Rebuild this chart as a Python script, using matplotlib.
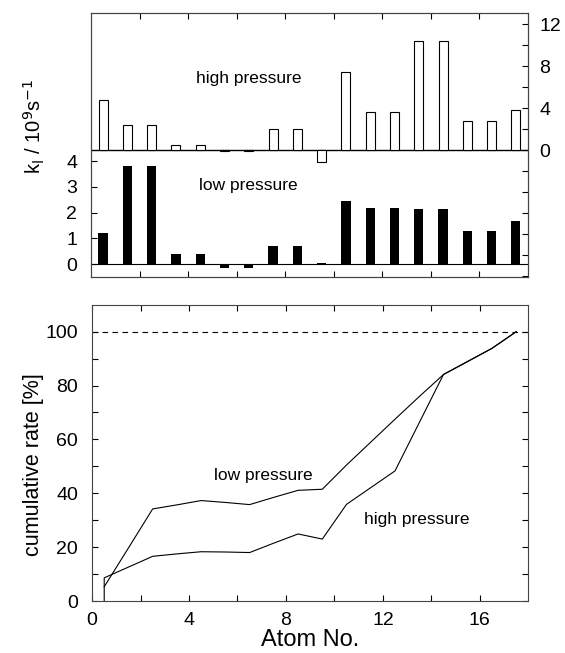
import matplotlib
matplotlib.use("Agg")
import matplotlib.pyplot as plt
import numpy as np

plt.rcParams["font.family"] = ["Liberation Sans", "DejaVu Sans"]

# atom positions (bars are centred half a unit in)
atom_pos = [0.5, 1.5, 2.5, 3.5, 4.5, 5.5, 6.5, 7.5, 8.5, 9.5,
            10.5, 11.5, 12.5, 13.5, 14.5, 15.5, 16.5, 17.5]

# k_l / 10^9 s^-1
k_high = [4.8, 2.4, 2.4, 0.5, 0.5, -0.1, -0.1, 2.0, 2.0, -1.1,
          7.4, 3.6, 3.6, 10.4, 10.4, 2.8, 2.8, 3.8]
k_low = [1.2, 3.8, 3.8, 0.4, 0.4, -0.15, -0.15, 0.7, 0.7, 0.05,
         2.45, 2.2, 2.2, 2.15, 2.15, 1.27, 1.27, 1.67]

# cumulative rate [%]
cum_high_x = [0.5] + atom_pos
cum_high = [0.0, 8.6, 12.6, 16.6, 17.5, 18.3, 18.2, 18.0, 21.5, 24.9, 23.0,
            35.9, 42.1, 48.3, 66.2, 84.1, 88.9, 93.8, 100.0]
cum_low = [5.3, 19.7, 34.2, 35.7, 37.3, 36.6, 35.8, 38.5, 41.1, 41.5,
           50.5, 59.0, 67.5, 75.9, 84.1, 89.0, 93.8, 100.0]

TICK_FS = 14
NOTE_FS = 12.5

fig = plt.figure(figsize=(5.65, 6.53), dpi=100)

# ---- top: rate constants, low pressure (left) / high pressure (right)
ax = fig.add_axes([0.161, 0.5758, 0.7735, 0.404])
ax_hi = ax.twinx()

ax.bar(atom_pos, k_low, width=0.38, color="black", zorder=3)
ax.axhline(0, color="black", lw=0.8)
ax_hi.bar(atom_pos, k_high, width=0.37, facecolor="white", edgecolor="black", lw=0.8, zorder=3)
ax_hi.axhline(0, color="black", lw=1.0)

ax.set_xlim(0, 18)
ax.set_ylim(-0.506, 9.77)
ax_hi.set_ylim(-12.1, 13.05)

ax.set_xticks(np.arange(2, 18, 2))
ax.set_xticklabels([])
ax.set_yticks([0, 1, 2, 3, 4])
ax.tick_params(axis="x", direction="in", top=True, bottom=True, length=4, width=0.8)
ax.tick_params(axis="y", direction="in", left=True, right=False, length=4, width=0.8,
               labelsize=TICK_FS, pad=10)

ax_hi.set_yticks([0, 4, 8, 12])
ax_hi.set_yticks(np.arange(-12, 13, 2), minor=True)
ax_hi.tick_params(axis="y", which="both", direction="in", length=4, width=0.8,
                  labelsize=TICK_FS, pad=8)

for a in (ax, ax_hi):
    for s in a.spines.values():
        s.set_linewidth(0.8)
        s.set_color("#444444")

ax.text(6.5, 3.07, "low pressure", ha="center", va="center", fontsize=NOTE_FS)
ax_hi.text(6.5, 6.8, "high pressure", ha="center", va="center", fontsize=NOTE_FS)
ax.set_ylabel(r"k$_\mathrm{l}$ / 10$^9$s$^{-1}$", fontsize=14.5)
ax.yaxis.set_label_coords(-0.1, 0.57)

# ---- bottom: cumulative rate
ax2 = fig.add_axes([0.163, 0.0796, 0.772, 0.4537])
ax2.plot(atom_pos, cum_low, color="black", lw=0.8)
ax2.plot(cum_high_x, cum_high, color="black", lw=0.8)
ax2.axhline(100, color="black", lw=0.8, ls=(0, (5, 4)))

ax2.set_xlim(0, 18)
ax2.set_ylim(0, 110)
ax2.set_xticks([0, 4, 8, 12, 16])
ax2.set_xticks([2, 6, 10, 14], minor=True)
ax2.set_yticks([0, 20, 40, 60, 80, 100])
ax2.set_yticks(np.arange(10, 110, 20), minor=True)
ax2.tick_params(which="both", direction="in", top=True, right=True, length=4, width=0.8,
                labelsize=TICK_FS, pad=8)
ax2.tick_params(axis="y", pad=10)
for s in ax2.spines.values():
    s.set_linewidth(0.8)
    s.set_color("#444444")

ax2.text(7.05, 46.7, "low pressure", ha="center", va="center", fontsize=NOTE_FS)
ax2.text(13.4, 30.2, "high pressure", ha="center", va="center", fontsize=NOTE_FS)
ax2.set_xlabel("Atom No.", fontsize=17, labelpad=0)
ax2.set_ylabel("cumulative rate [%]", fontsize=15.5)
ax2.yaxis.set_label_coords(-0.11, 0.46)

fig.savefig("out.png", dpi=100)
